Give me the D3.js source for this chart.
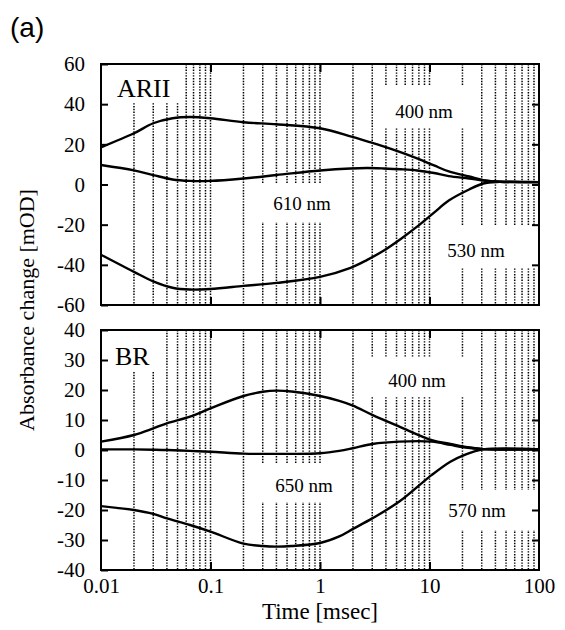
<!DOCTYPE html>
<html lang="en">
<head>
<meta charset="UTF-8">
<title>Absorbance change</title>
<script src="https://cdn.jsdelivr.net/npm/d3@7"></script>
<style>
  body { margin: 0; background: #fff; }
  svg { display: block; }
</style>
</head>
<body>
<script>
var SERIF = "'Liberation Serif', 'Times New Roman', serif";

// x axis: time in msec (log)
var xTickVals = [0.01, 0.1, 1, 10, 100];
var xTickText = ["0.01", "0.1", "1", "10", "100"];

// ARII panel
var arTimes = [0.01, 0.02, 0.03, 0.045, 0.065, 0.1, 0.2, 0.4, 1, 1.9, 2.7, 3.8, 5.5, 7.7, 11, 15, 23, 31, 44, 100];
var ar400 = [18.5, 25.5, 30.5, 33, 33.6, 33, 31, 30, 28, 24, 21.5, 19, 16, 13, 9.5, 6.5, 4, 2.2, 1.4, 1.2];
var ar610 = [9.7, 7, 4.7, 2.5, 1.8, 1.8, 3, 4.7, 7, 8, 8.2, 8, 7.6, 7, 5.7, 4.2, 3, 2, 1.4, 1.2];
var ar530 = [-35, -43.5, -48.2, -51.4, -52.3, -52, -50.5, -49, -46, -41.5, -37.5, -33, -27, -21, -14, -8, -2.5, 0.5, 1.3, 1.2];
var arYTicks = [-60, -40, -20, 0, 20, 40, 60];

// BR panel
var brTimes = [0.01, 0.02, 0.03, 0.04, 0.065, 0.1, 0.2, 0.3, 0.4, 0.55, 1, 1.5, 2, 3, 5.3, 10.5, 15.5, 20.7, 31, 100];
var br400 = [2.8, 5, 7.2, 8.9, 11.1, 13.9, 18, 19.4, 19.8, 19.5, 18, 16.4, 14.8, 11.7, 7.8, 3.3, 2, 1.1, 0.3, 0.2];
var br650 = [0.2, 0.2, 0.1, 0, -0.3, -0.6, -1.2, -1.3, -1.3, -1.3, -1.1, -0.3, 0.6, 2, 2.8, 2.8, 1.7, 0.9, 0.3, 0.2];
var br570 = [-18.7, -20, -21.3, -22.8, -25, -27.2, -31.2, -32, -32.2, -32, -31, -28.8, -26.3, -22.8, -17.2, -8.3, -3.9, -1.7, 0.2, 0.2];
var brYTicks = [-40, -30, -20, -10, 0, 10, 20, 30, 40];

// dotted grid at 1..9 of each decade
var gridVals = [];
[0.01, 0.1, 1, 10].forEach(function(d) {
  for (var k = 1; k <= 9; k++) if (!(d === 0.01 && k === 1)) gridVals.push(k * d);
});

var W = 565, H = 630;
var svg = d3.select("body").append("svg").attr("width", W).attr("height", H);
svg.append("rect").attr("width", W).attr("height", H).attr("fill", "#fff");

var x = d3.scaleLog().domain([0.01, 100]).range([101, 539]);

var panels = [
  { name: "ARII", times: arTimes, series: [ar400, ar610, ar530], ticks: arYTicks,
    y: d3.scaleLinear().domain([-60, 60]).range([305, 64]),
    nameLbl: { x: 117, y: 97 },
    labels: [ { t: "400 nm", x: 424, y: 118 }, { t: "610 nm", x: 302, y: 210 }, { t: "530 nm", x: 476, y: 257 } ],
    masks: [ [101, 64, 182, 103], [378, 85, 472, 128], [253, 183, 325, 222], [440, 225, 539, 267] ] },
  { name: "BR", times: brTimes, series: [br400, br650, br570], ticks: brYTicks,
    y: d3.scaleLinear().domain([-40, 40]).range([570, 330]),
    nameLbl: { x: 115, y: 365 },
    labels: [ { t: "400 nm", x: 417, y: 387 }, { t: "650 nm", x: 304, y: 492 }, { t: "570 nm", x: 477, y: 517 } ],
    masks: [ [101, 330, 160, 372], [365, 357, 472, 397], [253, 463, 325, 502], [445, 490, 539, 530] ] }
];

panels.forEach(function(p) {
  var y = p.y;
  var g = svg.append("g");
  var top = y.range()[1], bot = y.range()[0];

  // dotted vertical grid
  g.selectAll(".grid").data(gridVals).enter().append("line")
    .attr("x1", function(d) { return x(d); }).attr("x2", function(d) { return x(d); })
    .attr("y1", top).attr("y2", bot)
    .attr("stroke", "#000").attr("stroke-width", 1.5).attr("stroke-dasharray", "1.4,1.4");

  // white boxes behind labels
  g.selectAll(".mask").data(p.masks).enter().append("rect")
    .attr("x", function(d) { return d[0]; }).attr("y", function(d) { return d[1]; })
    .attr("width", function(d) { return d[2] - d[0]; }).attr("height", function(d) { return d[3] - d[1]; })
    .attr("fill", "#fff");

  // curves
  var line = d3.line().curve(d3.curveCatmullRom.alpha(0.5))
    .x(function(d, i) { return x(p.times[i]); })
    .y(function(d) { return y(d); });
  p.series.forEach(function(s) {
    g.append("path").attr("d", line(s)).attr("fill", "none")
      .attr("stroke", "#000").attr("stroke-width", 2.4).attr("stroke-linejoin", "round");
  });

  // labels
  g.append("text").attr("x", p.nameLbl.x).attr("y", p.nameLbl.y)
    .style("font-family", SERIF).style("font-size", "26px").text(p.name);
  g.selectAll(".wl").data(p.labels).enter().append("text")
    .attr("x", function(d) { return d.x; }).attr("y", function(d) { return d.y; })
    .attr("text-anchor", "middle").style("font-family", SERIF).style("font-size", "19px")
    .text(function(d) { return d.t; });

  // y axes (inward ticks both sides)
  var yl = g.append("g").attr("transform", "translate(101,0)")
    .call(d3.axisLeft(y).tickValues(p.ticks).tickSize(-7).tickSizeOuter(0).tickPadding(16)
      .tickFormat(function(d) { return String(d); }));
  yl.select(".domain").remove();
  yl.selectAll("text").style("font-family", SERIF).style("font-size", "21px");
  var yr = g.append("g").attr("transform", "translate(539,0)")
    .call(d3.axisRight(y).tickValues(p.ticks.slice(1, -1)).tickSize(-7).tickSizeOuter(0).tickFormat(""));
  yr.select(".domain").remove();

  // x ticks inward, top and bottom
  var xb = g.append("g").attr("transform", "translate(0," + bot + ")")
    .call(d3.axisBottom(x).tickValues([0.1, 1, 10]).tickSize(-8).tickSizeOuter(0).tickFormat(""));
  xb.select(".domain").remove();
  var xt = g.append("g").attr("transform", "translate(0," + top + ")")
    .call(d3.axisTop(x).tickValues([0.1, 1, 10]).tickSize(-8).tickSizeOuter(0).tickFormat(""));
  xt.select(".domain").remove();
  g.selectAll(".tick line").attr("stroke", "#000").attr("stroke-width", 2);

  // frame
  g.append("rect").attr("x", 101).attr("y", top).attr("width", 438).attr("height", bot - top)
    .attr("fill", "none").attr("stroke", "#000").attr("stroke-width", 2);
});

// x tick labels under the lower panel
var xa = svg.append("g").attr("transform", "translate(0,570)")
  .call(d3.axisBottom(x).tickValues(xTickVals).tickSize(0).tickPadding(8)
    .tickFormat(function(d, i) { return xTickText[i]; }));
xa.select(".domain").remove();
xa.selectAll("text").style("font-family", SERIF).style("font-size", "21px");

svg.append("text").attr("x", 320).attr("y", 619)
  .attr("text-anchor", "middle").style("font-family", SERIF).style("font-size", "23px")
  .text("Time [msec]");

svg.append("text")
  .attr("transform", "translate(34,310) rotate(-90)")
  .attr("text-anchor", "middle").style("font-family", SERIF).style("font-size", "22px")
  .text("Absorbance change [mOD]");

svg.append("text").attr("x", 10).attr("y", 37)
  .style("font-family", "'Liberation Sans', Arial, sans-serif").style("font-size", "28px").text("(a)");
</script>
</body>
</html>
